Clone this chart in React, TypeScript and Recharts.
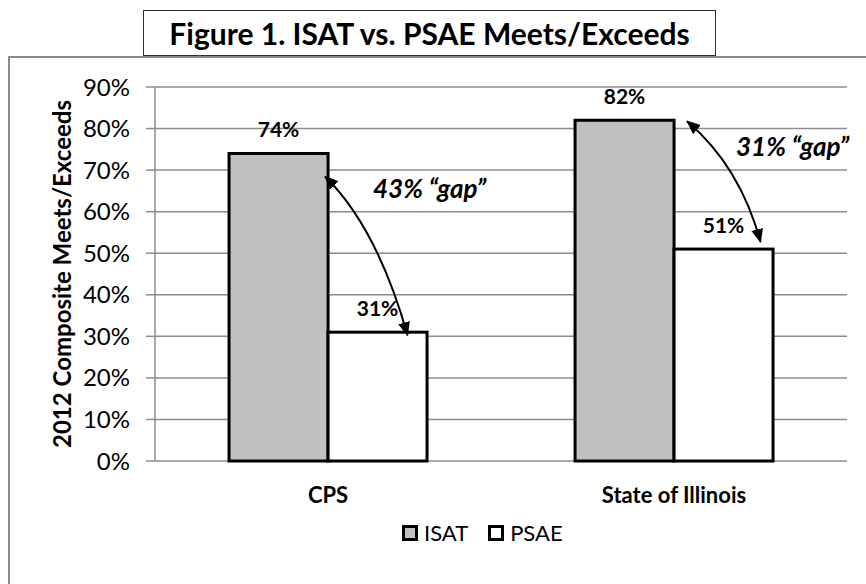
import React from 'react';
import { BarChart, Bar, XAxis, YAxis, CartesianGrid, LabelList, Legend } from 'recharts';

// ---- data ----
const categories = ['CPS', 'State of Illinois'];
const isatValues = [74, 82];
const psaeValues = [31, 51];
const gapLabels = ['43% \u201cgap\u201d', '31% \u201cgap\u201d'];
const yTicks = [0, 10, 20, 30, 40, 50, 60, 70, 80, 90];
const boundaryTicks = [0, 1, 2];
const seriesNames = ['ISAT', 'PSAE'];
const titleText = 'Figure 1. ISAT vs. PSAE Meets/Exceeds';
const yAxisTitle = '2012 Composite Meets/Exceeds';

const data = categories.map((name, i) => ({
  name,
  ISAT: isatValues[i],
  PSAE: psaeValues[i],
  gap: gapLabels[i],
}));

// ---- annotation layout (offsets relative to bar corners) ----
const arrowLayout = [
  { start: [-3, 23], ctrl: [49, 74], end: [30, 3], text: [45, 45] },
  { start: [13, 1], ctrl: [66, 46], end: [37, -7], text: [62, 36] },
];

const FONT = "Lato, 'Open Sans', sans-serif";
const GRID = '#8c8c8c';
const ISAT_FILL = '#c0c0c0';

const PsaeShape = (props: any) => {
  const { x, y, width, height, index, payload } = props;
  const bottom = y + height;
  const isatTop = bottom - (height * payload.ISAT) / payload.PSAE;
  const L = arrowLayout[index] || arrowLayout[0];
  const sx = x + L.start[0];
  const sy = isatTop + L.start[1];
  const cx = x + L.ctrl[0];
  const cy = isatTop + L.ctrl[1];
  const ex = x + width / 2 + L.end[0];
  const ey = y + L.end[1];
  return (
    <g>
      <rect x={x} y={y} width={width} height={height} fill="#ffffff" stroke="#000" strokeWidth={3} />
      <path
        d={`M${sx},${sy} Q${cx},${cy} ${ex},${ey}`}
        fill="none"
        stroke="#000"
        strokeWidth={2}
        markerStart="url(#gapArrowHead)"
        markerEnd="url(#gapArrowHead)"
      />
      <text
        x={x + L.text[0]}
        y={isatTop + L.text[1]}
        fontFamily={FONT}
        fontSize={26}
        fontWeight="bold"
        fontStyle="italic"
        fill="#000"
      >
        {payload.gap}
      </text>
    </g>
  );
};

const YTitle = (props: any) => {
  const vb = props.viewBox || { x: 0, y: 87, width: 155, height: 374 };
  const cx = vb.x + 61;
  const cy = vb.y + vb.height / 2;
  return (
    <text
      x={cx}
      y={cy}
      transform={`rotate(-90, ${cx}, ${cy})`}
      textAnchor="middle"
      dominantBaseline="central"
      fontFamily={FONT}
      fontSize={24}
      fontWeight="bold"
      fill="#000"
    >
      {yAxisTitle}
    </text>
  );
};

const LegendContent = () => (
  <div style={{ display: 'flex', alignItems: 'center', fontFamily: FONT, fontSize: 22, color: '#000' }}>
    {seriesNames.map((n, i) => (
      <div key={n} style={{ display: 'flex', alignItems: 'center', marginRight: i === 0 ? 20 : 0 }}>
        <span
          style={{
            display: 'inline-block',
            width: 10,
            height: 10,
            border: '3px solid #000',
            background: i === 0 ? ISAT_FILL : '#fff',
            marginRight: 6,
          }}
        />
        <span>{n}</span>
      </div>
    ))}
  </div>
);

export default function App() {
  return (
    <div
      style={{
        position: 'absolute',
        left: 0,
        top: 0,
        width: 866,
        height: 584,
        overflow: 'hidden',
        background: '#fff',
      }}
    >
      <svg width={0} height={0} style={{ position: 'absolute' }}>
        <defs>
          <marker
            id="gapArrowHead"
            viewBox="0 0 14 12"
            refX={13}
            refY={6}
            markerWidth={14}
            markerHeight={12}
            markerUnits="userSpaceOnUse"
            orient="auto-start-reverse"
          >
            <path d="M0,0 L14,6 L0,12 z" fill="#000" />
          </marker>
        </defs>
      </svg>
      <div
        style={{
          position: 'absolute',
          left: 8,
          top: 56,
          width: 900,
          height: 600,
          border: `2px solid ${GRID}`,
        }}
      />
      <div style={{ position: 'absolute', left: 0, top: 0 }}>
        <BarChart
          width={866}
          height={584}
          data={data}
          margin={{ top: 87, right: 19, left: 0, bottom: 83 }}
          barCategoryGap="21.4%"
          barGap={0}
        >
          <CartesianGrid
            xAxisId="cat"
            vertical={false}
            stroke={GRID}
            strokeWidth={1.5}
          />
          <Bar
            xAxisId="cat"
            dataKey="ISAT"
            fill={ISAT_FILL}
            stroke="#000"
            strokeWidth={3}
            isAnimationActive={false}
          >
            <LabelList
              dataKey="ISAT"
              position="top"
              offset={16}
              formatter={(v: any) => `${v}%`}
              style={{ fontFamily: FONT, fontSize: 21, fontWeight: 'bold', fill: '#000' }}
            />
          </Bar>
          <Bar
            xAxisId="cat"
            dataKey="PSAE"
            fill="#ffffff"
            stroke="#000"
            strokeWidth={3}
            shape={PsaeShape}
            isAnimationActive={false}
          >
            <LabelList
              dataKey="PSAE"
              position="top"
              offset={16}
              formatter={(v: any) => `${v}%`}
              style={{ fontFamily: FONT, fontSize: 21, fontWeight: 'bold', fill: '#000' }}
            />
          </Bar>
          <XAxis
            xAxisId="bound"
            type="number"
            domain={[0, 2]}
            ticks={boundaryTicks}
            interval={0}
            tick={false}
            tickSize={7}
            height={0}
            axisLine={{ stroke: GRID, strokeWidth: 2 }}
            tickLine={{ stroke: GRID, strokeWidth: 1.5 }}
          />
          <XAxis
            xAxisId="cat"
            dataKey="name"
            axisLine={false}
            tickLine={false}
            tickSize={0}
            tickMargin={26}
            height={40}
            interval={0}
            tick={{ fontFamily: FONT, fontSize: 22, fontWeight: 'bold', fill: '#000' }}
          />
          <YAxis
            domain={[0, 90]}
            ticks={yTicks}
            interval={0}
            tickFormatter={(v: any) => `${v}%`}
            width={155}
            tickSize={9}
            tickMargin={16}
            axisLine={{ stroke: GRID, strokeWidth: 1.5 }}
            tickLine={{ stroke: GRID, strokeWidth: 1.5 }}
            tick={{ fontFamily: FONT, fontSize: 24, fill: '#000' }}
            label={<YTitle />}
          />
          <Legend
            verticalAlign="middle"
            align="center"
            layout="horizontal"
            content={<LegendContent />}
            wrapperStyle={{ top: 519, left: 402, width: 'auto' }}
          />
        </BarChart>
      </div>
      <div
        style={{
          position: 'absolute',
          left: 143,
          top: 10,
          width: 571,
          height: 44,
          border: '1.5px solid #303030',
          background: '#fff',
          display: 'flex',
          alignItems: 'center',
          justifyContent: 'center',
          fontFamily: FONT,
          fontWeight: 'bold',
          fontSize: 30,
          color: '#000',
        }}
      >
        {titleText}
      </div>
    </div>
  );
}
